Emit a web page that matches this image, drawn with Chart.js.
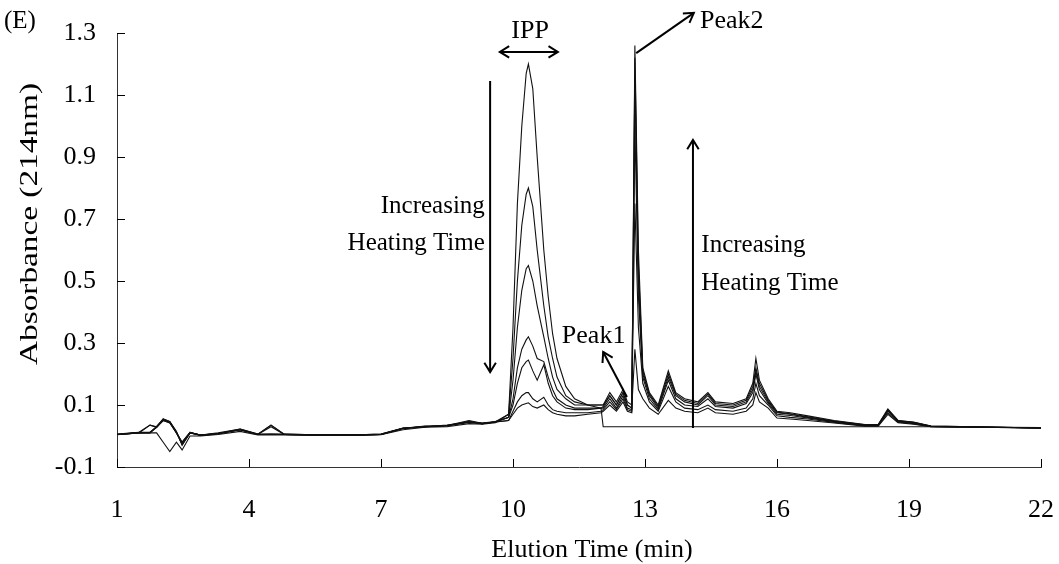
<!DOCTYPE html>
<html>
<head>
<meta charset="utf-8">
<script src="https://cdn.jsdelivr.net/npm/chart.js@4"></script>
<style>
  body { margin: 0; background: #fff; }
  #wrap { width: 1059px; height: 564px; }
</style>
</head>
<body>
<div id="wrap"><canvas id="chart" width="1059" height="564"></canvas></div>
<script>
// elution time (min), shared by all traces
const elutionTime = [1.0, 1.5, 1.75, 1.9, 2.05, 2.2, 2.35, 2.48, 2.66, 2.9, 3.3, 3.8, 4.2, 4.5, 4.8, 5.5, 6.5, 7.0, 7.5, 8.0, 8.5, 9.0, 9.3, 9.6,
  9.9, 10.0, 10.1, 10.2, 10.3, 10.35, 10.45, 10.55, 10.7, 10.8, 10.9, 11.0, 11.2, 11.4, 11.7, 12.0,
  12.05, 12.2, 12.35, 12.5, 12.6, 12.7,
  12.77, 12.85, 12.95, 13.1, 13.3, 13.53, 13.7, 13.9, 14.2, 14.43, 14.6, 15.0, 15.3, 15.45, 15.52, 15.6, 15.8, 16.0, 16.3, 16.7, 17.3, 18.0, 18.3, 18.52, 18.75, 19.1, 19.5, 20.5, 22.0];

// absorbance at 214nm, one array per heating time (shortest first)
const trace1 = [0.005, 0.01, 0.01, 0.01, -0.02, -0.05, -0.02, -0.045, 0.0, 0.0, 0.005, 0.015, 0.003, 0.003, 0.003, 0.002, 0.002, 0.004, 0.02, 0.028, 0.03, 0.04, 0.038, 0.043,
  0.07, 0.35, 0.75, 1.0, 1.17, 1.2, 1.12, 0.9, 0.6, 0.45, 0.33, 0.25, 0.16, 0.12, 0.1, 0.09,
  0.03, 0.03, 0.03, 0.03, 0.03, 0.03,
  0.03, 0.03, 0.03, 0.03, 0.03, 0.03, 0.03, 0.03, 0.03, 0.03, 0.03, 0.03, 0.03, 0.03, 0.03, 0.03, 0.03, 0.03, 0.03, 0.03, 0.03, 0.03, 0.03, 0.03, 0.03, 0.03, 0.03, 0.029, 0.027];
const trace2 = [0.005, 0.012, 0.035, 0.03, 0.055, 0.045, 0.012, -0.025, 0.012, 0.003, 0.008, 0.022, 0.006, 0.035, 0.006, 0.004, 0.004, 0.006, 0.025, 0.032, 0.033, 0.047, 0.04, 0.046,
  0.07, 0.25, 0.5, 0.68, 0.78, 0.8, 0.74, 0.6, 0.42, 0.32, 0.25, 0.19, 0.13, 0.11, 0.1, 0.1,
  0.1, 0.13, 0.1, 0.14, 0.1, 0.09,
  0.28, 0.15, 0.12, 0.09, 0.07, 0.115, 0.09, 0.08, 0.075, 0.09, 0.075, 0.07, 0.08, 0.1, 0.14, 0.11, 0.09, 0.058, 0.055, 0.05, 0.042, 0.032, 0.032, 0.07, 0.043, 0.038, 0.03, 0.028, 0.026];
const trace3 = [0.006, 0.012, 0.012, 0.03, 0.055, 0.047, 0.015, -0.03, 0.01, 0.003, 0.01, 0.022, 0.006, 0.006, 0.006, 0.004, 0.004, 0.006, 0.026, 0.03, 0.035, 0.045, 0.042, 0.047,
  0.06, 0.18, 0.35, 0.47, 0.54, 0.55, 0.5, 0.42, 0.32, 0.25, 0.19, 0.15, 0.12, 0.1, 0.1, 0.1,
  0.1, 0.14, 0.11, 0.15, 0.11, 0.1,
  0.75, 0.35, 0.17, 0.11, 0.08, 0.16, 0.11, 0.09, 0.085, 0.1, 0.085, 0.08, 0.09, 0.12, 0.17, 0.13, 0.1, 0.065, 0.06, 0.055, 0.044, 0.033, 0.033, 0.075, 0.045, 0.04, 0.03, 0.028, 0.026];
const trace4 = [0.005, 0.01, 0.035, 0.028, 0.052, 0.044, 0.01, -0.02, 0.012, 0.002, 0.008, 0.02, 0.005, 0.035, 0.005, 0.003, 0.003, 0.005, 0.024, 0.031, 0.034, 0.05, 0.041, 0.045,
  0.06, 0.12, 0.22, 0.28, 0.31, 0.32, 0.29, 0.25, 0.24, 0.19, 0.15, 0.12, 0.1, 0.09, 0.09, 0.09,
  0.095, 0.13, 0.1, 0.14, 0.1, 0.09,
  1.0, 0.45, 0.19, 0.12, 0.085, 0.18, 0.12, 0.1, 0.095, 0.12, 0.095, 0.09, 0.105, 0.14, 0.2, 0.15, 0.105, 0.07, 0.066, 0.058, 0.046, 0.034, 0.034, 0.08, 0.047, 0.042, 0.031, 0.029, 0.026];
const trace5 = [0.004, 0.01, 0.01, 0.03, 0.05, 0.042, 0.012, -0.025, 0.01, 0.002, 0.008, 0.02, 0.005, 0.006, 0.005, 0.003, 0.003, 0.005, 0.025, 0.03, 0.033, 0.045, 0.04, 0.045,
  0.06, 0.1, 0.17, 0.22, 0.24, 0.245, 0.21, 0.18, 0.23, 0.17, 0.13, 0.11, 0.09, 0.085, 0.085, 0.09,
  0.09, 0.12, 0.09, 0.13, 0.09, 0.085,
  1.16, 0.5, 0.2, 0.13, 0.09, 0.19, 0.13, 0.11, 0.1, 0.13, 0.1, 0.095, 0.11, 0.15, 0.21, 0.16, 0.11, 0.075, 0.07, 0.06, 0.047, 0.035, 0.035, 0.083, 0.048, 0.043, 0.031, 0.029, 0.026];
const trace6 = [0.005, 0.011, 0.012, 0.028, 0.053, 0.046, 0.012, -0.028, 0.01, 0.003, 0.008, 0.021, 0.005, 0.03, 0.005, 0.004, 0.004, 0.005, 0.025, 0.03, 0.033, 0.046, 0.04, 0.045,
  0.05, 0.08, 0.11, 0.13, 0.14, 0.14, 0.12, 0.11, 0.125, 0.1, 0.085, 0.08, 0.075, 0.075, 0.075, 0.08,
  0.085, 0.11, 0.085, 0.12, 0.085, 0.08,
  1.22, 0.55, 0.21, 0.135, 0.095, 0.2, 0.135, 0.115, 0.105, 0.135, 0.105, 0.1, 0.115, 0.16, 0.22, 0.17, 0.115, 0.077, 0.072, 0.062, 0.048, 0.036, 0.036, 0.085, 0.05, 0.044, 0.032, 0.03, 0.026];
const trace7 = [0.005, 0.01, 0.01, 0.028, 0.05, 0.043, 0.01, -0.02, 0.012, 0.002, 0.007, 0.02, 0.005, 0.005, 0.005, 0.003, 0.003, 0.005, 0.024, 0.03, 0.033, 0.044, 0.04, 0.045,
  0.05, 0.07, 0.09, 0.1, 0.105, 0.107, 0.095, 0.09, 0.1, 0.085, 0.075, 0.07, 0.065, 0.065, 0.07, 0.075,
  0.08, 0.1, 0.08, 0.11, 0.08, 0.075,
  1.26, 0.6, 0.22, 0.14, 0.1, 0.21, 0.14, 0.12, 0.11, 0.14, 0.11, 0.105, 0.12, 0.17, 0.25, 0.18, 0.12, 0.08, 0.075, 0.065, 0.05, 0.037, 0.037, 0.087, 0.05, 0.045, 0.032, 0.03, 0.026];

const traces = [trace1, trace2, trace3, trace4, trace5, trace6, trace7];

const xTicks = [1, 4, 7, 10, 13, 16, 19, 22];
const yTicks = [-0.1, 0.1, 0.3, 0.5, 0.7, 0.9, 1.1, 1.3];

const serif = '"Liberation Serif", "Times New Roman", serif';

// arrow with open V heads
function arrow(ctx, x1, y1, x2, y2, both) {
  const head = (ax, ay, bx, by) => {
    const ang = Math.atan2(by - ay, bx - ax);
    const len = 11, spread = 0.55;
    ctx.beginPath();
    ctx.moveTo(bx - len * Math.cos(ang - spread), by - len * Math.sin(ang - spread));
    ctx.lineTo(bx, by);
    ctx.lineTo(bx - len * Math.cos(ang + spread), by - len * Math.sin(ang + spread));
    ctx.stroke();
  };
  ctx.beginPath();
  ctx.moveTo(x1, y1);
  ctx.lineTo(x2, y2);
  ctx.stroke();
  head(x1, y1, x2, y2);
  if (both) head(x2, y2, x1, y1);
}

const annotate = {
  id: 'annotate',
  afterDraw(chart) {
    const ctx = chart.ctx;
    const xs = chart.scales.x, ys = chart.scales.y;
    const px = v => xs.getPixelForValue(v);
    const py = v => ys.getPixelForValue(v);
    const area = chart.chartArea;

    ctx.save();
    ctx.strokeStyle = '#000';
    ctx.fillStyle = '#000';

    // inward tick marks
    ctx.lineWidth = 1;
    ctx.beginPath();
    yTicks.forEach(v => { const y = Math.round(py(v)) + 0.5; ctx.moveTo(area.left, y); ctx.lineTo(area.left + 8, y); });
    xTicks.forEach(v => { const x = Math.round(px(v)) + 0.5; ctx.moveTo(x, area.bottom); ctx.lineTo(x, area.bottom - 8); });
    ctx.stroke();

    // panel label
    ctx.font = '25px ' + serif;
    ctx.textAlign = 'left';
    ctx.textBaseline = 'alphabetic';
    ctx.fillText('(E)', 4, 28);

    // axis titles
    ctx.font = '26px ' + serif;
    ctx.textAlign = 'center';
    ctx.fillText('Elution Time (min)', 592, 557);

    ctx.save();
    ctx.translate(37, 224);
    ctx.rotate(-Math.PI / 2);
    ctx.font = '25px ' + serif;
    const yt = 'Absorbance (214nm)';
    const w = ctx.measureText(yt).width;
    ctx.scale(282 / w, 1);
    ctx.fillText(yt, 0, 0);
    ctx.restore();

    ctx.lineWidth = 2;

    // IPP
    ctx.font = '26px ' + serif;
    ctx.textAlign = 'center';
    ctx.fillText('IPP', px(10.39), py(1.284));
    arrow(ctx, px(9.70), py(1.239), px(11.02), py(1.239), true);

    // down arrow + text
    arrow(ctx, px(9.48), py(1.145), px(9.48), py(0.206), false);
    ctx.font = '25px ' + serif;
    ctx.textAlign = 'right';
    ctx.fillText('Increasing', px(9.36), py(0.719));
    ctx.fillText('Heating Time', px(9.36), py(0.599));

    // up arrow + text
    arrow(ctx, px(14.09), py(0.026), px(14.09), py(0.955), false);
    ctx.textAlign = 'left';
    ctx.fillText('Increasing', px(14.28), py(0.594));
    ctx.fillText('Heating Time', px(14.28), py(0.471));

    // Peak2
    ctx.font = '26px ' + serif;
    arrow(ctx, px(12.80), py(1.235), px(14.11), py(1.365), false);
    ctx.fillText('Peak2', px(14.25), py(1.316));

    // Peak1
    ctx.fillText('Peak1', px(11.11), py(0.30));
    arrow(ctx, px(12.59), py(0.126), px(12.05), py(0.271), false);

    ctx.restore();
  }
};

new Chart(document.getElementById('chart'), {
  type: 'line',
  data: {
    datasets: traces.map(tr => ({
      data: elutionTime.map((t, i) => ({ x: t, y: tr[i] })),
      borderColor: '#111',
      borderWidth: 1.1,
      pointRadius: 0,
      tension: 0,
      fill: false
    }))
  },
  options: {
    responsive: false,
    animation: false,
    layout: { padding: { left: 0, right: 18, top: 33, bottom: 0 } },
    plugins: { legend: { display: false }, tooltip: { enabled: false } },
    scales: {
      x: {
        type: 'linear',
        min: 1,
        max: 22,
        afterBuildTicks: s => { s.ticks = xTicks.map(v => ({ value: v })); },
        afterFit: s => { s.height = 97; s.paddingLeft = 0; s.paddingRight = 0; },
        ticks: { color: '#000', font: { family: serif, size: 26 }, padding: 20, maxRotation: 0, callback: v => String(v) },
        grid: { display: false },
        border: { display: true, color: '#333', width: 1 }
      },
      y: {
        min: -0.1,
        max: 1.3,
        afterBuildTicks: s => { s.ticks = yTicks.map(v => ({ value: v })); },
        afterFit: s => { s.width = 117; s.paddingTop = 0; s.paddingBottom = 0; },
        ticks: { color: '#000', font: { family: serif, size: 26 }, padding: 13, callback: v => v.toFixed(1) },
        grid: { display: false },
        border: { display: true, color: '#333', width: 1 }
      }
    }
  },
  plugins: [annotate]
});
</script>
</body>
</html>
